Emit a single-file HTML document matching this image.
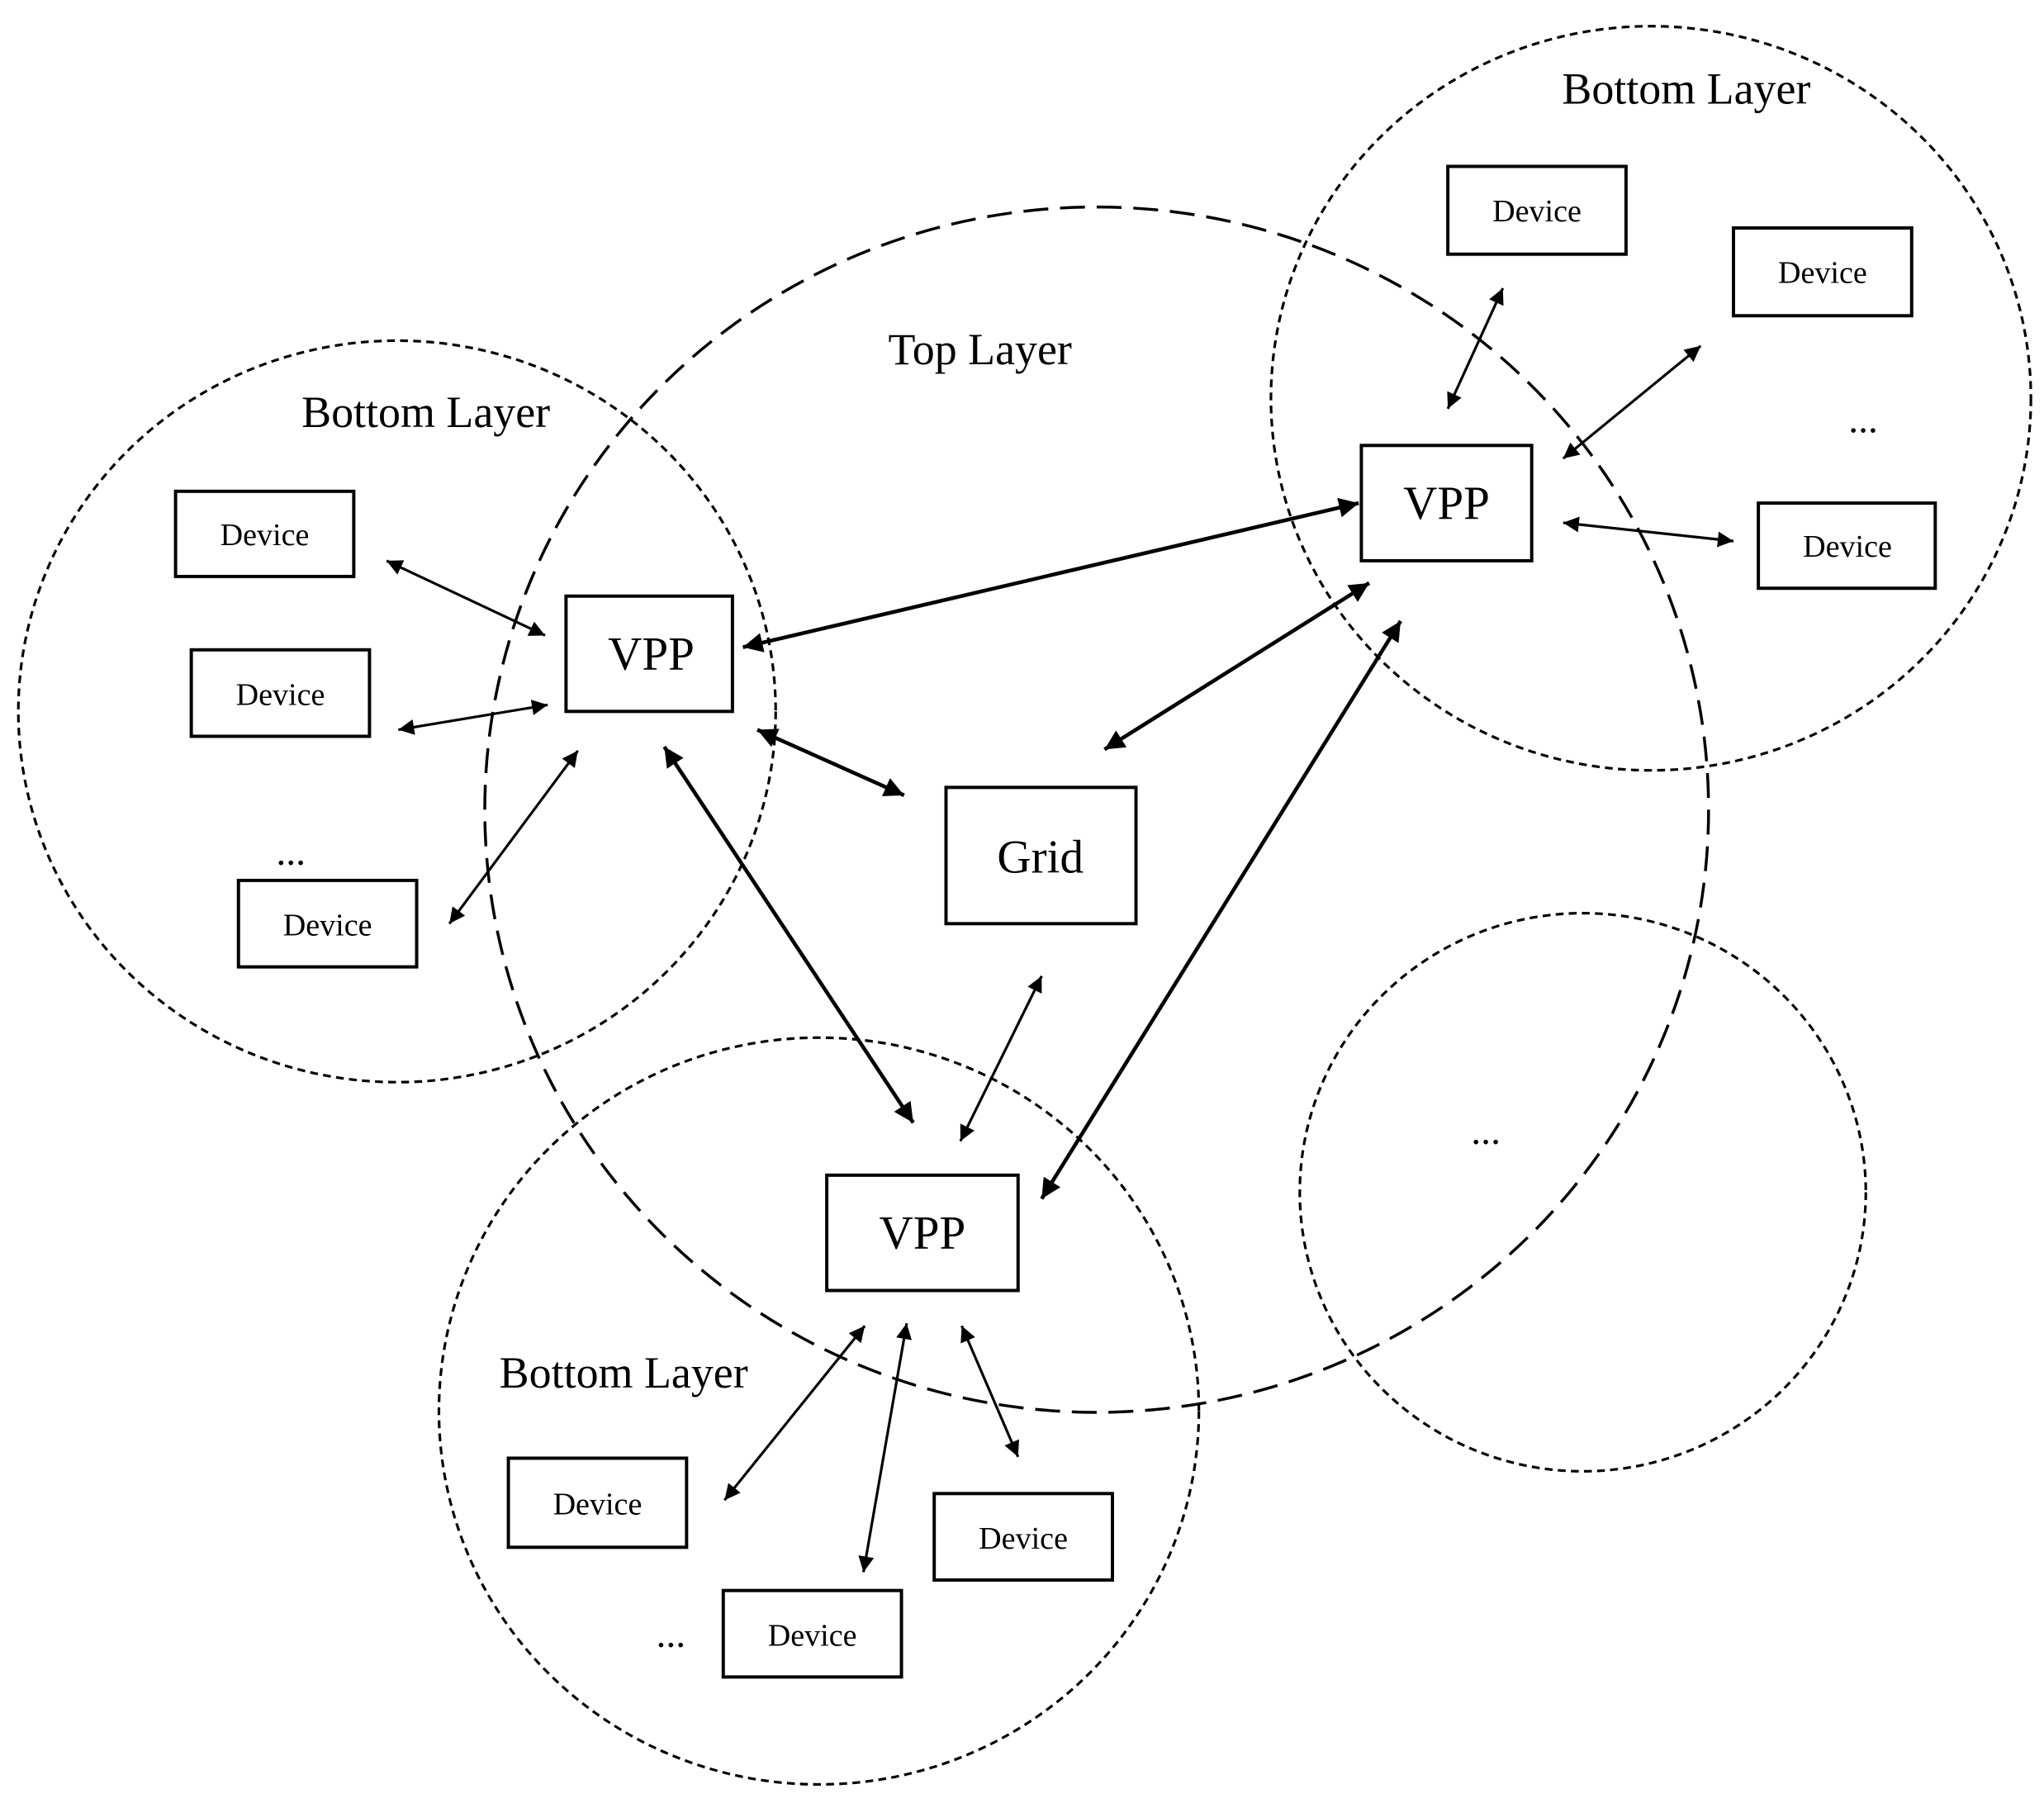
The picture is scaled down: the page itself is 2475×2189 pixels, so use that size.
<!DOCTYPE html>
<html><head><meta charset="utf-8"><style>html,body{margin:0;padding:0;background:#fff}svg{display:block}</style></head>
<body>
<svg width="2475" height="2189" viewBox="0 0 1560 1380" preserveAspectRatio="none" xmlns="http://www.w3.org/2000/svg">
<defs>
<marker id="a" viewBox="0 0 10 10" refX="10" refY="5" markerWidth="7" markerHeight="6" markerUnits="strokeWidth" orient="auto-start-reverse"><path d="M0,0 L10,5 L0,10 z" fill="#000"/></marker>
<marker id="b" viewBox="0 0 10 10" refX="10" refY="5" markerWidth="6" markerHeight="5.2" markerUnits="strokeWidth" orient="auto-start-reverse"><path d="M0,0 L10,5 L0,10 z" fill="#000"/></marker>
</defs>
<g fill="none" stroke="#000">
<ellipse cx="837" cy="618" rx="467" ry="460" stroke-width="2.2" stroke-dasharray="19 9"/>
<g stroke-width="2" stroke-dasharray="6 4">
<ellipse cx="303" cy="543" rx="289" ry="283"/>
<ellipse cx="1260" cy="304" rx="290" ry="284"/>
<ellipse cx="625" cy="1077" rx="290" ry="285"/>
<ellipse cx="1208" cy="910" rx="216" ry="213"/>
</g>
<g stroke-width="2.5">
<rect x="134" y="375" width="136" height="65"/>
<rect x="146" y="496" width="136" height="66"/>
<rect x="182" y="672" width="136" height="66"/>
<rect x="432" y="455" width="127" height="88"/>
<rect x="722" y="601" width="145" height="104"/>
<rect x="1039" y="340" width="130" height="88"/>
<rect x="1105" y="127" width="136" height="67"/>
<rect x="1323" y="174" width="136" height="67"/>
<rect x="1342" y="384" width="135" height="65"/>
<rect x="631" y="897" width="146" height="88"/>
<rect x="388" y="1113" width="136" height="68"/>
<rect x="552" y="1214" width="136" height="66"/>
<rect x="713" y="1140" width="136" height="66"/>
</g>
<g stroke-width="2" marker-start="url(#a)" marker-end="url(#a)">
<line x1="295" y1="428" x2="416" y2="485"/>
<line x1="304" y1="557" x2="418" y2="538"/>
<line x1="343" y1="705" x2="441" y2="573"/>
<line x1="733" y1="871" x2="795" y2="745"/>
<line x1="1105" y1="312" x2="1147" y2="220"/>
<line x1="1193" y1="350" x2="1298" y2="264"/>
<line x1="1193" y1="399" x2="1323" y2="413"/>
<line x1="553" y1="1145" x2="660" y2="1012"/>
<line x1="659" y1="1200" x2="692" y2="1010"/>
<line x1="734" y1="1012" x2="777" y2="1112"/>
</g>
<g stroke-width="2.9" marker-start="url(#b)" marker-end="url(#b)">
<line x1="567" y1="494" x2="1037" y2="384"/>
<line x1="578" y1="557" x2="690" y2="607"/>
<line x1="507" y1="570" x2="697" y2="857"/>
<line x1="843" y1="572" x2="1045" y2="445"/>
<line x1="795" y1="915" x2="1069" y2="474"/>
</g>
</g>
<g font-family="Liberation Serif, serif" fill="#000" text-anchor="middle">
<g font-size="24">
<text x="202" y="416">Device</text>
<text x="214" y="538">Device</text>
<text x="250" y="714">Device</text>
<text x="1173" y="169">Device</text>
<text x="1391" y="216">Device</text>
<text x="1410" y="425">Device</text>
<text x="456" y="1156">Device</text>
<text x="620" y="1256">Device</text>
<text x="781" y="1182">Device</text>
</g>
<g font-size="36">
<text x="497" y="511">VPP</text>
<text x="794" y="666">Grid</text>
<text x="1104" y="396">VPP</text>
<text x="704" y="953">VPP</text>
</g>
<g font-size="34">
<text x="325" y="326">Bottom Layer</text>
<text x="748" y="278">Top Layer</text>
<text x="1287" y="79">Bottom Layer</text>
<text x="476" y="1059">Bottom Layer</text>
</g>
<g font-size="30">
<text x="222" y="660">...</text>
<text x="1422" y="330">...</text>
<text x="512" y="1257">...</text>
<text x="1134" y="873">...</text>
</g>
</g>
</svg>
</body></html>
